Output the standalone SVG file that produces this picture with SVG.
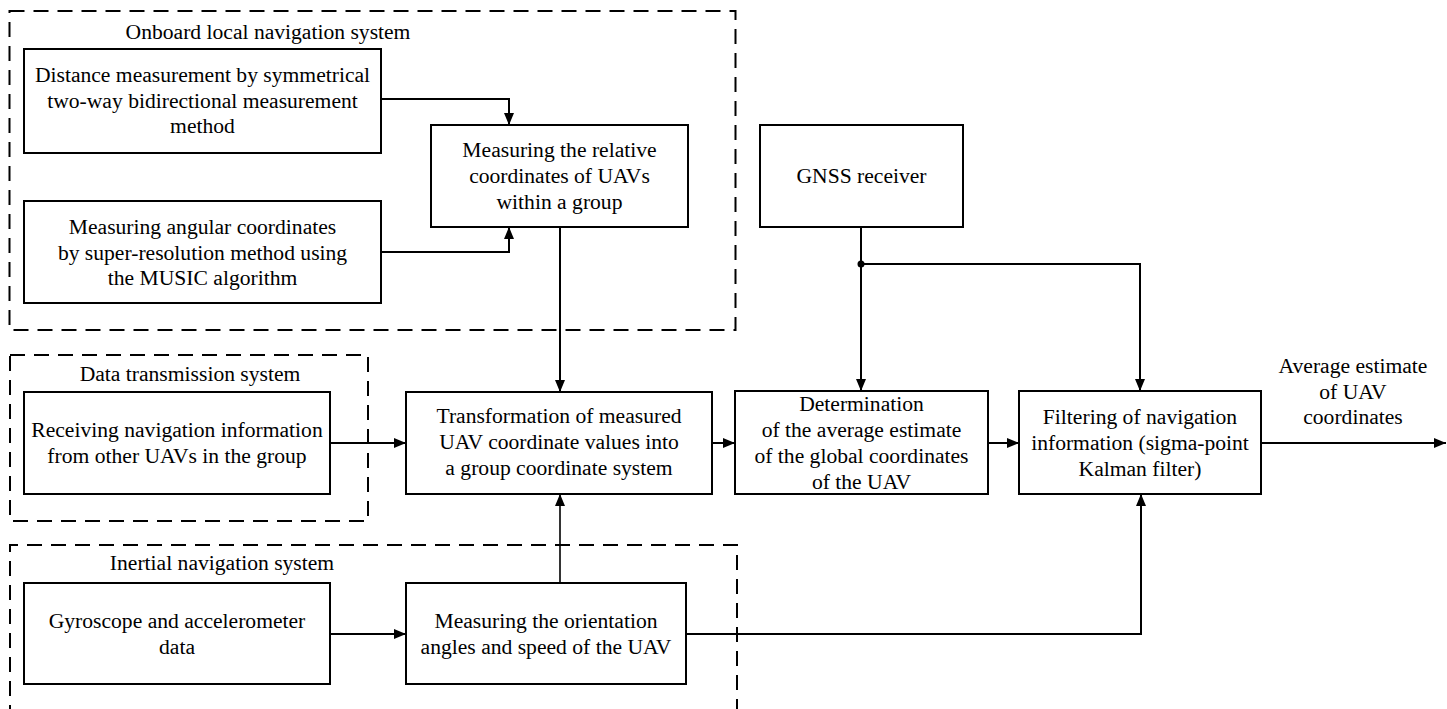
<svg xmlns="http://www.w3.org/2000/svg" width="1447" height="709" viewBox="0 0 1447 709">
<defs>
<style>
.box{fill:#fff;stroke:#000;stroke-width:2}
.grp{fill:none;stroke:#000;stroke-width:2;stroke-dasharray:15 9}
.t{font-family:"Liberation Serif","Times New Roman",serif;font-size:21.6px;fill:#000;text-anchor:middle}
.c{fill:none;stroke:#000;stroke-width:2}
</style>
<marker id="ah" markerUnits="userSpaceOnUse" markerWidth="12" markerHeight="10" refX="12" refY="5" orient="auto">
<path d="M0,0 L12,5 L0,10 z" fill="#000"/>
</marker>
</defs>
<rect width="1447" height="709" fill="#fff"/>
<g id="groups">
<g id="onboard">
<rect class="grp" x="9.5" y="11" width="726" height="319"/>
<text class="t" x="268" y="39">Onboard local navigation system</text>
</g>
<g id="datatrans">
<rect class="grp" x="10" y="355" width="358" height="166"/>
<text class="t" x="190" y="381">Data transmission system</text>
</g>
<g id="inertial">
<path class="grp" d="M10,720 V545 H737 V720"/>
<text class="t" x="222" y="570">Inertial navigation system</text>
</g>
</g>
<g id="connectors">
<path class="c" d="M381,99 H509 V125" marker-end="url(#ah)"/>
<path class="c" d="M381,252 H509 V227" marker-end="url(#ah)"/>
<path class="c" d="M560,227 V392" marker-end="url(#ah)"/>
<path class="c" d="M330,443 H406" marker-end="url(#ah)"/>
<path class="c" d="M560,583 V494" marker-end="url(#ah)" style="stroke-width:1.6"/>
<path class="c" d="M330,634 H406" marker-end="url(#ah)"/>
<path class="c" d="M686,634 H1141 V494" marker-end="url(#ah)"/>
<path class="c" d="M712,443 H735" marker-end="url(#ah)"/>
<path class="c" d="M988,443 H1019" marker-end="url(#ah)"/>
<path class="c" d="M1261,443 H1446" marker-end="url(#ah)"/>
<path class="c" d="M861,227 V391" marker-end="url(#ah)"/>
<path class="c" d="M861,264 H1140 V391" marker-end="url(#ah)"/>
<circle cx="861" cy="264" r="3.5" fill="#000"/>
</g>
<g id="n-distance">
<rect class="box" x="24" y="49" width="357" height="104"/>
<text class="t" x="202.5" y="82">Distance measurement by symmetrical</text>
<text class="t" x="202.5" y="107.5">two-way bidirectional measurement</text>
<text class="t" x="202.5" y="133">method</text>
</g>
<g id="n-relative">
<rect class="box" x="431" y="125" width="257" height="102"/>
<text class="t" x="559.5" y="157">Measuring the relative</text>
<text class="t" x="559.5" y="183">coordinates of UAVs</text>
<text class="t" x="559.5" y="209">within a group</text>
</g>
<g id="n-angular">
<rect class="box" x="24" y="201" width="357" height="102"/>
<text class="t" x="202.5" y="234">Measuring angular coordinates</text>
<text class="t" x="202.5" y="259.5">by super-resolution method using</text>
<text class="t" x="202.5" y="285">the MUSIC algorithm</text>
</g>
<g id="n-gnss">
<rect class="box" x="760" y="125" width="203" height="102"/>
<text class="t" x="861.5" y="183">GNSS receiver</text>
</g>
<g id="n-receiving">
<rect class="box" x="24" y="392" width="306" height="102"/>
<text class="t" x="177" y="437">Receiving navigation information</text>
<text class="t" x="177" y="463">from other UAVs in the group</text>
</g>
<g id="n-transform">
<rect class="box" x="406" y="392" width="306" height="102"/>
<text class="t" x="559" y="423">Transformation of measured</text>
<text class="t" x="559" y="449">UAV coordinate values into</text>
<text class="t" x="559" y="475">a group coordinate system</text>
</g>
<g id="n-determination">
<rect class="box" x="735" y="391" width="253" height="103"/>
<text class="t" x="861.5" y="411">Determination</text>
<text class="t" x="861.5" y="437">of the average estimate</text>
<text class="t" x="861.5" y="463">of the global coordinates</text>
<text class="t" x="861.5" y="489">of the UAV</text>
</g>
<g id="n-filtering">
<rect class="box" x="1019" y="391" width="242" height="103"/>
<text class="t" x="1140" y="424">Filtering of navigation</text>
<text class="t" x="1140" y="450">information (sigma-point</text>
<text class="t" x="1140" y="476">Kalman filter)</text>
</g>
<g id="n-output">
<text class="t" x="1353" y="373">Average estimate</text>
<text class="t" x="1353" y="398.5">of UAV</text>
<text class="t" x="1353" y="424">coordinates</text>
</g>
<g id="n-gyro">
<rect class="box" x="24" y="583" width="306" height="101"/>
<text class="t" x="177" y="628">Gyroscope and accelerometer</text>
<text class="t" x="177" y="654">data</text>
</g>
<g id="n-orientation">
<rect class="box" x="406" y="583" width="280" height="101"/>
<text class="t" x="546" y="628">Measuring the orientation</text>
<text class="t" x="546" y="654">angles and speed of the UAV</text>
</g>
</svg>
